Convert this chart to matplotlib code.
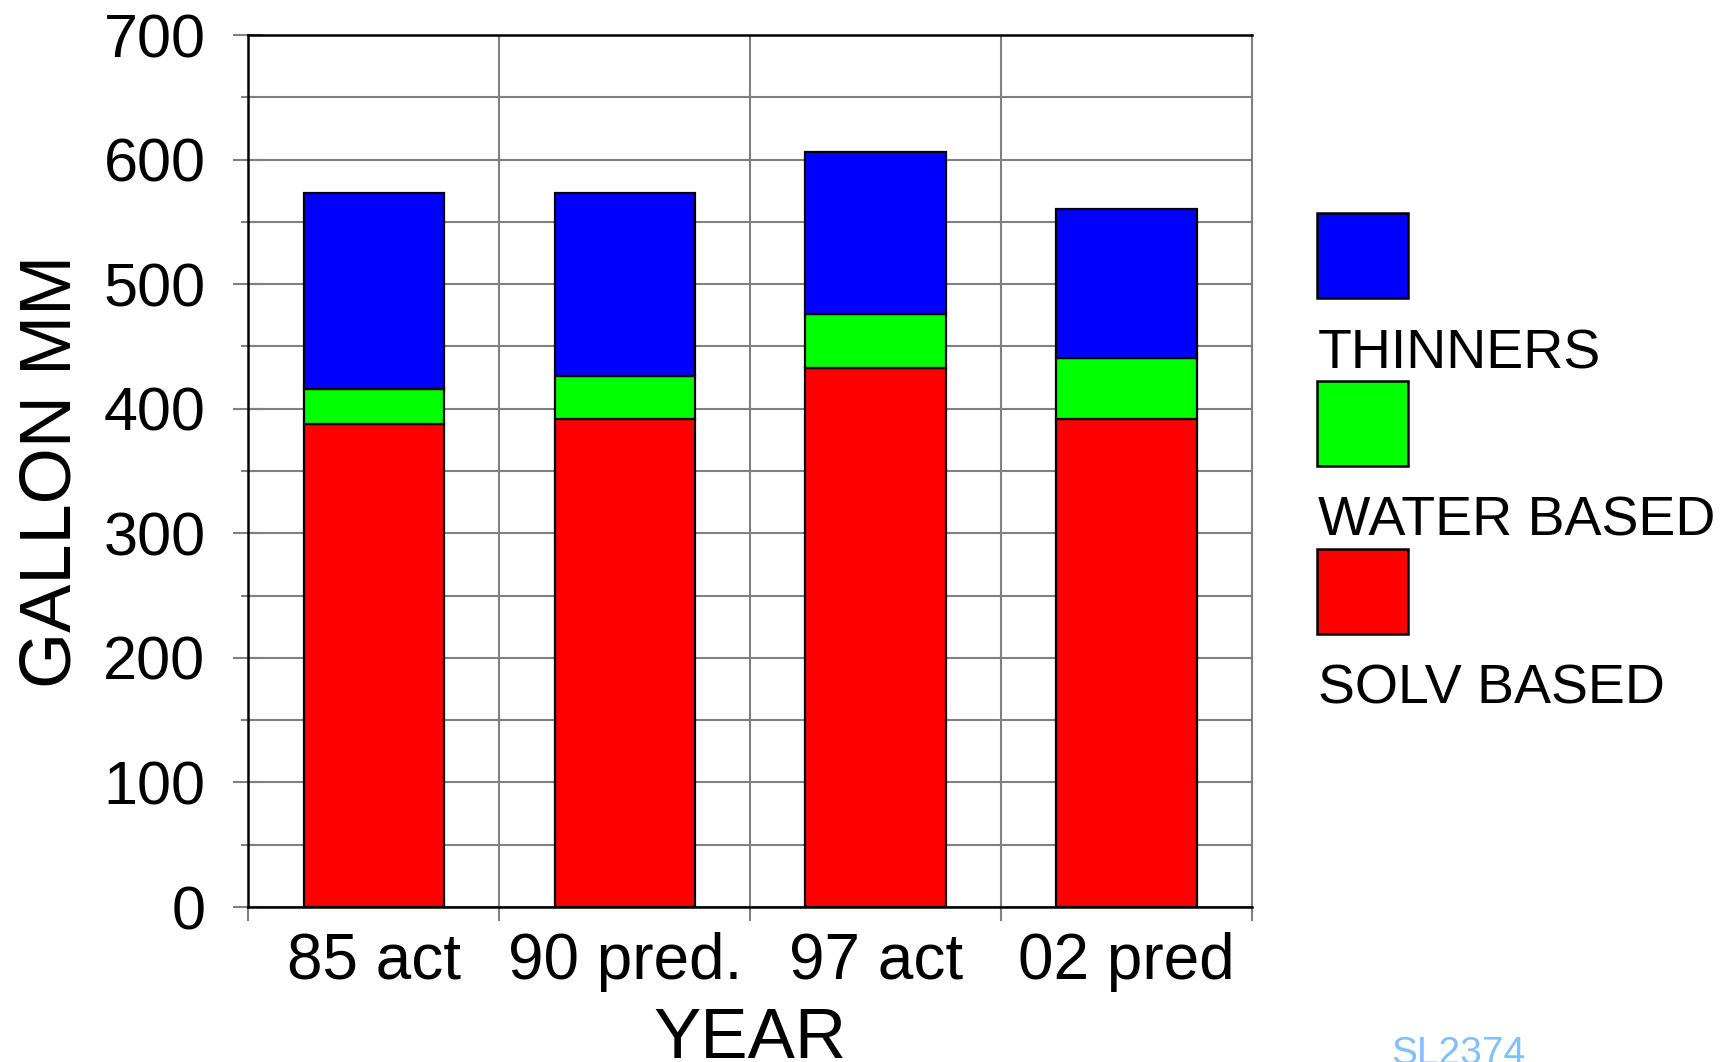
import matplotlib
matplotlib.use('Agg')
import matplotlib.pyplot as plt
from matplotlib.patches import Rectangle

plt.rcParams['font.family'] = ['Liberation Sans', 'DejaVu Sans']

years = ['85 act', '90 pred.', '97 act', '02 pred']
solv_based = [388, 392, 433, 392]
water_based = [28, 34, 43, 49]
thinners = [157, 147, 130, 119]
series_names = ['THINNERS', 'WATER BASED', 'SOLV BASED']
series_colors = ['#0000ff', '#00ff00', '#ff0000']

W, H = 1724, 1062
fig = plt.figure(figsize=(W / 100, H / 100), dpi=100)
ax = fig.add_axes([248.5 / W, 1 - 907 / H, (1252 - 248.5) / W, (907 - 35) / H])

x = range(len(years))
bottom2 = [s + w for s, w in zip(solv_based, water_based)]
ax.bar(x, solv_based, width=0.56, color=series_colors[2], edgecolor='black', linewidth=1.6, zorder=3)
ax.bar(x, water_based, width=0.56, bottom=solv_based, color=series_colors[1], edgecolor='black', linewidth=1.6, zorder=3)
ax.bar(x, thinners, width=0.56, bottom=bottom2, color=series_colors[0], edgecolor='black', linewidth=1.6, zorder=3)

grey = '#808080'
ax.set_ylim(0, 700)
ax.set_xlim(-0.5, len(years) - 0.5)
ax.set_yticks(range(0, 701, 100))
ax.set_yticks(range(50, 700, 100), minor=True)
ax.tick_params(axis='y', which='major', direction='inout', length=22, width=1.5, color=grey,
               labelsize=44, pad=20)
ax.tick_params(axis='y', which='minor', direction='inout', length=10, width=1.5, color=grey)
ax.grid(axis='y', which='both', color=grey, linewidth=1.5, zorder=0)

# category boundaries as major x ticks, labels on minor ticks
ax.set_xticks([i - 0.5 for i in range(len(years) + 1)])
ax.set_xticklabels([])
ax.set_xticks(list(x), minor=True)
ax.set_xticklabels(years, minor=True)
ax.tick_params(axis='x', which='major', direction='out', length=10, width=1.5, color=grey)
ax.tick_params(axis='x', which='minor', length=0, labelsize=46, pad=18)
for b in [0.5, 1.5, 2.5]:
    ax.axvline(b, color=grey, linewidth=1.5, zorder=0)

for side in ['left', 'bottom', 'top']:
    ax.spines[side].set_color('black')
    ax.spines[side].set_linewidth(1.8)
ax.spines['right'].set_color(grey)
ax.spines['right'].set_linewidth(1.5)

fig.text(750 / W, 1 - 1058 / H, 'YEAR', fontsize=51, ha='center', va='baseline')
fig.text(86 / W, 1 - 471 / H, 'GALLON MM', fontsize=52, rotation=90, ha='right', va='center')

# legend: box above each label
box_tops = [213, 381, 549]
text_base = [368, 535, 703]
for name, col, top, base in zip(series_names, series_colors, box_tops, text_base):
    fig.patches.append(Rectangle((1317 / W, 1 - (top + 85) / H), 91 / W, 85 / H,
                                 facecolor=col, edgecolor='black', linewidth=1.8,
                                 transform=fig.transFigure))
    fig.text(1318 / W, 1 - base / H, name, fontsize=40, ha='left', va='baseline')

fig.text(1391 / W, 1 - 1064 / H, 'SL2374', fontsize=28, color='#80c0ff', ha='left', va='baseline')

fig.savefig('out.png', dpi=100)
